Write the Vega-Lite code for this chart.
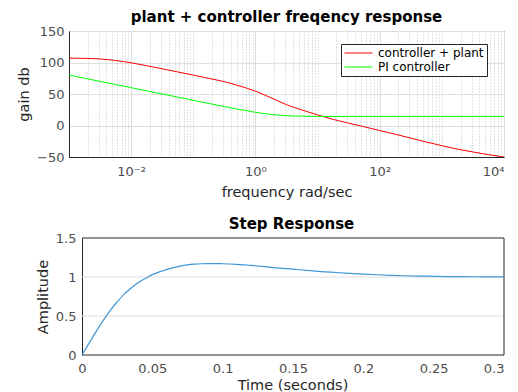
{
  "$schema": "https://vega.github.io/schema/vega-lite/v6.json",
  "padding": {"left": 16, "top": 9, "right": 2, "bottom": 0},
  "spacing": 18,
  "config": {
    "font": "DejaVu Sans",
    "view": {"stroke": "#262626", "strokeWidth": 1},
    "axis": {
      "labelColor": "#4d4d4d",
      "labelFontSize": 13,
      "titleColor": "#262626",
      "titleFontSize": 14.5,
      "titleFontWeight": "normal",
      "domainColor": "#262626",
      "tickColor": "#262626",
      "gridColor": "#dedede",
      "gridOpacity": 1,
      "labelOverlap": false
    },
    "title": {"fontSize": 15, "fontWeight": "bold", "color": "#000000"}
  },
  "vconcat": [
    {
      "width": 435,
      "height": 126,
      "title": {"text": "plant + controller freqency response", "offset": 0},
      "data": {"values": [
        {"w": 0.001, "gain": 107, "series": "controller + plant"},
        {"w": 0.001778, "gain": 106.6, "series": "controller + plant"},
        {"w": 0.003162, "gain": 105.6, "series": "controller + plant"},
        {"w": 0.005623, "gain": 103.2, "series": "controller + plant"},
        {"w": 0.01, "gain": 99.5, "series": "controller + plant"},
        {"w": 0.01778, "gain": 94.9, "series": "controller + plant"},
        {"w": 0.03162, "gain": 90, "series": "controller + plant"},
        {"w": 0.05623, "gain": 85, "series": "controller + plant"},
        {"w": 0.1, "gain": 80, "series": "controller + plant"},
        {"w": 0.1778, "gain": 74.8, "series": "controller + plant"},
        {"w": 0.3162, "gain": 69.6, "series": "controller + plant"},
        {"w": 0.5623, "gain": 62.6, "series": "controller + plant"},
        {"w": 1, "gain": 54.5, "series": "controller + plant"},
        {"w": 1.778, "gain": 44, "series": "controller + plant"},
        {"w": 3.162, "gain": 33, "series": "controller + plant"},
        {"w": 5.623, "gain": 24.6, "series": "controller + plant"},
        {"w": 10, "gain": 16.8, "series": "controller + plant"},
        {"w": 17.78, "gain": 9.7, "series": "controller + plant"},
        {"w": 31.62, "gain": 3.7, "series": "controller + plant"},
        {"w": 56.23, "gain": -2, "series": "controller + plant"},
        {"w": 100, "gain": -8, "series": "controller + plant"},
        {"w": 177.8, "gain": -13.8, "series": "controller + plant"},
        {"w": 316.2, "gain": -20, "series": "controller + plant"},
        {"w": 562.3, "gain": -26.2, "series": "controller + plant"},
        {"w": 1000, "gain": -32, "series": "controller + plant"},
        {"w": 1778, "gain": -37.5, "series": "controller + plant"},
        {"w": 3162, "gain": -42, "series": "controller + plant"},
        {"w": 5623, "gain": -46.3, "series": "controller + plant"},
        {"w": 10000, "gain": -50, "series": "controller + plant"},
        {"w": 0.001, "gain": 80, "series": "PI controller"},
        {"w": 0.001778, "gain": 75, "series": "PI controller"},
        {"w": 0.003162, "gain": 70, "series": "PI controller"},
        {"w": 0.005623, "gain": 65, "series": "PI controller"},
        {"w": 0.01, "gain": 60, "series": "PI controller"},
        {"w": 0.01778, "gain": 55, "series": "PI controller"},
        {"w": 0.03162, "gain": 50, "series": "PI controller"},
        {"w": 0.05623, "gain": 45, "series": "PI controller"},
        {"w": 0.1, "gain": 40, "series": "PI controller"},
        {"w": 0.1778, "gain": 35, "series": "PI controller"},
        {"w": 0.3162, "gain": 30.1, "series": "PI controller"},
        {"w": 0.5623, "gain": 25.3, "series": "PI controller"},
        {"w": 1, "gain": 21, "series": "PI controller"},
        {"w": 1.778, "gain": 17.6, "series": "PI controller"},
        {"w": 3.162, "gain": 15.6, "series": "PI controller"},
        {"w": 5.623, "gain": 14.8, "series": "PI controller"},
        {"w": 10, "gain": 14.5, "series": "PI controller"},
        {"w": 17.78, "gain": 14.4, "series": "PI controller"},
        {"w": 31.62, "gain": 14.4, "series": "PI controller"},
        {"w": 100, "gain": 14.4, "series": "PI controller"},
        {"w": 1000, "gain": 14.4, "series": "PI controller"},
        {"w": 10000, "gain": 14.4, "series": "PI controller"}
      ]},
      "mark": {"type": "line", "strokeWidth": 1, "interpolate": "monotone", "clip": true},
      "encoding": {
        "x": {
          "field": "w", "type": "quantitative",
          "scale": {"type": "log", "domain": [0.001, 10000], "nice": false},
          "axis": {
            "title": "frequency rad/sec",
            "titlePadding": 7,
            "labelPadding": 8,
            "tickSize": 0,
            "values": [0.001,0.002,0.003,0.004,0.005,0.006,0.007,0.008,0.009,0.01,0.02,0.03,0.04,0.05,0.06,0.07,0.08,0.09,0.1,0.2,0.3,0.4,0.5,0.6,0.7,0.8,0.9,1,2,3,4,5,6,7,8,9,10,20,30,40,50,60,70,80,90,100,200,300,400,500,600,700,800,900,1000,2000,3000,4000,5000,6000,7000,8000,9000,10000],
            "labelExpr": "abs(log(datum.value)/LN10 - round(log(datum.value)/LN10)) < 0.000001 ? (round(log(datum.value)/LN10) == -2 ? '10⁻²' : round(log(datum.value)/LN10) == 0 ? '10⁰' : round(log(datum.value)/LN10) == 2 ? '10²' : round(log(datum.value)/LN10) == 4 ? '10⁴' : '') : ''",
            "gridDash": {"condition": {"test": "abs(log(datum.value)/LN10 - round(log(datum.value)/LN10)) < 0.000001 && (round(log(datum.value)/LN10) % 2) == 0", "value": []}, "value": [1, 2]},
            "gridColor": {"condition": {"test": "abs(log(datum.value)/LN10 - round(log(datum.value)/LN10)) < 0.000001 && (round(log(datum.value)/LN10) % 2) == 0", "value": "#dcdcdc"}, "value": "#c4c4c4"}
          }
        },
        "y": {
          "field": "gain", "type": "quantitative",
          "scale": {"domain": [-50, 150], "nice": false},
          "axis": {"title": "gain db", "values": [-50, 0, 50, 100, 150], "tickSize": 0, "labelPadding": 5, "titlePadding": 5}
        },
        "color": {
          "field": "series", "type": "nominal",
          "scale": {"domain": ["controller + plant", "PI controller"], "range": ["#ff0000", "#00ff00"]},
          "legend": {
            "title": null,
            "orient": "none",
            "legendX": 272,
            "legendY": 13,
            "symbolType": "stroke",
            "symbolSize": 784,
            "symbolStrokeWidth": 1,
            "clipHeight": 12,
            "labelFontSize": 12,
            "labelColor": "#000000",
            "strokeColor": "#262626",
            "fillColor": "#ffffff",
            "padding": 3,
            "rowPadding": 2,
            "labelOffset": 5
          }
        }
      }
    },
    {
      "width": 435,
      "height": 117,
      "view": {"stroke": null},
      "title": {"text": "Step Response", "offset": 0, "dx": 5},
      "layer": [
        {
          "data": {"values": [{"g": 0}, {"g": 0.5}, {"g": 1}, {"g": 1.5}]},
          "mark": {"type": "rule", "strokeWidth": 1},
          "encoding": {
            "y": {
              "field": "g", "type": "quantitative",
              "scale": {"domain": [0, 1.5], "nice": false},
              "axis": {"title": "Amplitude", "offset": -13, "grid": false, "values": [0, 0.5, 1, 1.5], "format": "~g", "tickSize": 0, "labelPadding": 6, "titlePadding": 5}
            },
            "x": {
              "datum": 0, "type": "quantitative",
              "scale": {"domain": [-0.009242, 0.3], "nice": false, "zero": false},
              "axis": {"title": "Time (seconds)", "titleX": 223.5, "values": [0, 0.05, 0.1, 0.15, 0.2, 0.25, 0.3], "format": "~g", "tickSize": 0, "labelPadding": 7, "titlePadding": 3, "domain": false}
            },
            "x2": {"datum": 0.3},
            "color": {
              "condition": {"test": "datum.g == 0 || datum.g == 1.5", "value": "#262626"},
              "value": "#dedede"
            }
          }
        },
        {
          "data": {"values": [{"g": 0.3}]},
          "mark": {"type": "rule", "strokeWidth": 1, "color": "#262626"},
          "encoding": {
            "x": {
              "field": "g", "type": "quantitative",
              "axis": {"title": "Time (seconds)", "titleX": 223.5, "values": [0, 0.05, 0.1, 0.15, 0.2, 0.25, 0.3], "format": "~g", "tickSize": 0, "labelPadding": 7, "titlePadding": 3, "domain": false}
            },
            "y": {
              "datum": 0, "type": "quantitative",
              "axis": {"title": "Amplitude", "offset": -13, "grid": false, "values": [0, 0.5, 1, 1.5], "format": "~g", "tickSize": 0, "labelPadding": 6, "titlePadding": 5}
            },
            "y2": {"datum": 1.5}
          }
        },
        {
          "data": {"values": [
            {"t": 0, "a": 0},
            {"t": 0.005, "a": 0.15},
            {"t": 0.01, "a": 0.3},
            {"t": 0.015, "a": 0.44},
            {"t": 0.02, "a": 0.57},
            {"t": 0.025, "a": 0.68},
            {"t": 0.03, "a": 0.78},
            {"t": 0.035, "a": 0.86},
            {"t": 0.04, "a": 0.93},
            {"t": 0.045, "a": 0.98},
            {"t": 0.05, "a": 1.03},
            {"t": 0.055, "a": 1.065},
            {"t": 0.06, "a": 1.095},
            {"t": 0.065, "a": 1.12},
            {"t": 0.07, "a": 1.14},
            {"t": 0.075, "a": 1.155},
            {"t": 0.08, "a": 1.165},
            {"t": 0.085, "a": 1.17},
            {"t": 0.09, "a": 1.172},
            {"t": 0.095, "a": 1.172},
            {"t": 0.1, "a": 1.17},
            {"t": 0.11, "a": 1.162},
            {"t": 0.12, "a": 1.148},
            {"t": 0.13, "a": 1.132},
            {"t": 0.14, "a": 1.115},
            {"t": 0.15, "a": 1.1},
            {"t": 0.16, "a": 1.084},
            {"t": 0.17, "a": 1.07},
            {"t": 0.18, "a": 1.058},
            {"t": 0.19, "a": 1.047},
            {"t": 0.2, "a": 1.037},
            {"t": 0.21, "a": 1.029},
            {"t": 0.22, "a": 1.022},
            {"t": 0.23, "a": 1.016},
            {"t": 0.24, "a": 1.012},
            {"t": 0.25, "a": 1.009},
            {"t": 0.26, "a": 1.006},
            {"t": 0.27, "a": 1.004},
            {"t": 0.28, "a": 1.003},
            {"t": 0.29, "a": 1.002},
            {"t": 0.3, "a": 1.001}
          ]},
          "mark": {"type": "line", "strokeWidth": 1.2, "color": "#3f97d6", "interpolate": "monotone"},
          "encoding": {
            "x": {
              "field": "t", "type": "quantitative",
              "axis": {"title": "Time (seconds)", "titleX": 223.5, "values": [0, 0.05, 0.1, 0.15, 0.2, 0.25, 0.3], "format": "~g", "tickSize": 0, "labelPadding": 7, "titlePadding": 3, "domain": false}
            },
            "y": {
              "field": "a", "type": "quantitative",
              "axis": {"title": "Amplitude", "offset": -13, "grid": false, "values": [0, 0.5, 1, 1.5], "format": "~g", "tickSize": 0, "labelPadding": 6, "titlePadding": 5}
            }
          }
        }
      ]
    }
  ]
}
